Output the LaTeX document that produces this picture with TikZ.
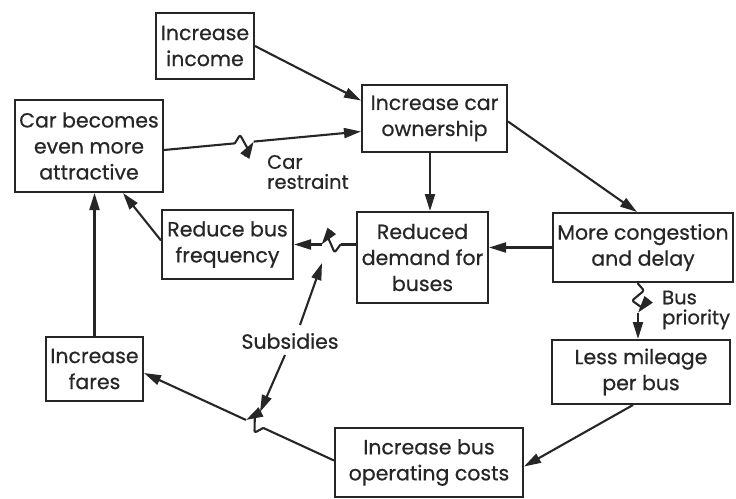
\documentclass[tikz,border=0pt]{standalone}
\usepackage{fontspec}
\setmainfont{Poppins}[FakeBold=0.6]
\usetikzlibrary{arrows.meta,decorations.markings,calc}
\definecolor{ink}{HTML}{262626}
\begin{document}
\begin{tikzpicture}[x=1pt,y=-1pt,
  every node/.style={text=ink, font=\fontsize{20.5}{26}\selectfont},
  box/.style={draw=ink, line width=2pt, inner sep=0pt, align=center},
  lbl/.style={align=left, inner sep=0pt, font=\fontsize{19.5}{20}\selectfont},
  link/.style={draw=ink, line width=2.1pt, -{Triangle[length=17pt,width=10pt]}},
  % a short wavy break drawn across a connector
  brk/.style={postaction={decorate, decoration={markings, mark=at position #1 with {
      \fill[white] (-10pt,-3pt) rectangle (9pt,3pt);
      \draw[ink, line width=2.1pt, line join=round, line cap=round, rounded corners=2pt]
        (-10pt,0pt) -- (-4pt,8pt) -- (3pt,-8pt) -- (9pt,0pt);}}}},
  brklong/.style={postaction={decorate, decoration={markings, mark=at position #1 with {
      \fill[white] (-14.5pt,-3pt) rectangle (14.5pt,3pt);
      \draw[ink, line width=2.1pt, line join=round, line cap=round, rounded corners=2pt]
        (-14.5pt,0pt) -- (-7.5pt,6pt) -- (2.5pt,-6pt) -- (9.5pt,4pt) -- (14.5pt,0pt);}}}}
]
\useasboundingbox (0,0) rectangle (736,498);

% boxes
\node[box, minimum width=98pt,  minimum height=66pt] (inc)   at (205,46)      {Increase\\income};
\node[box, minimum width=145pt, minimum height=67pt] (own)   at (434.5,118.5) {Increase car\\ownership};
\node[box, minimum width=148pt, minimum height=92pt] (att)   at (89,146)      {Car becomes\\even more\\attractive};
\node[box, minimum width=131pt, minimum height=69pt] (freq)  at (227.5,244.5) {Reduce bus\\frequency};
\node[box, minimum width=131pt, minimum height=91pt] (dem)   at (422.5,257.5) {Reduced\\demand for\\buses};
\node[box, minimum width=180pt, minimum height=69pt] (cong)  at (643,247.5)   {More congestion\\and delay};
\node[box, minimum width=97pt,  minimum height=64pt] (fares) at (94.5,369)    {Increase\\fares};
\node[box, minimum width=178pt, minimum height=64pt] (mil)   at (641,372)     {Less mileage\\per bus};
\node[box, minimum width=188pt, minimum height=69pt] (cost)  at (429,462.5)   {Increase bus\\operating costs};

% free labels
\node[lbl, anchor=west] (carr) at (267,172) {Car\\restraint};
\node[lbl, anchor=west] (busp) at (662,310) {Bus\\priority};
\node[inner sep=0pt] (subs) at (290,341) {Subsidies};

% connectors
\draw[link] (inc.east) -- ([yshift=18pt]own.west);
\draw[link, brk=0.41] ([yshift=-4pt]att.east) -- ([yshift=-13pt]own.west);
\draw[link] ([xshift=-4.5pt]own.south) -- ([xshift=-4.5pt]own.south |- dem.north);
\draw[link] ([yshift=-3pt]own.east) -- ([xshift=-6pt]cong.north);
\draw[link] (cong.west) -- (cong.west -| dem.east);
\draw[link, brk=0.41] (freq.east -| dem.west) -- (freq.east);
\draw[link] ([yshift=4pt]freq.west) -- ([xshift=34pt]att.south);
\draw[link] (fares.north) -- (fares.north |- att.south);
\draw[link, brklong=0.27] ([xshift=-5pt]cong.south) -- ([xshift=-5pt]cong.south |- mil.north);
\draw[link] ([xshift=-8pt]mil.south) -- ([yshift=-4pt]cost.east);
\draw[link, brk=0.42] ([yshift=2pt]cost.west) -- ([yshift=-4pt]fares.east);

% subsidies act on the two breaks
\coordinate (tipA) at (322,263);
\coordinate (tipB) at (260,412);
\draw[link] ([shift={(10pt,16pt)}]subs.center) -- (tipA);
\draw[link] ([shift={(-5pt,-14pt)}]subs.center) -- (tipB);
\end{tikzpicture}
\end{document}
